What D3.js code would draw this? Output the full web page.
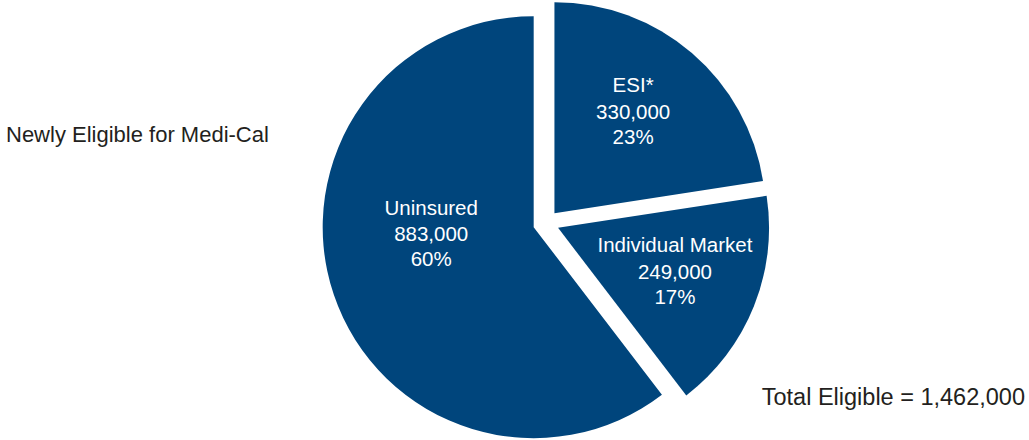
<!DOCTYPE html>
<html>
<head>
<meta charset="utf-8">
<script src="https://cdn.jsdelivr.net/npm/d3@7"></script>
<style>
  html, body { margin: 0; padding: 0; background: #fff; }
  svg { display: block; font-family: "Liberation Sans", Arial, sans-serif; }
</style>
</head>
<body>
<svg id="chart" width="1029" height="440"></svg>
<script>
const categories = ["ESI*", "Individual Market", "Uninsured"];
const values = [330000, 249000, 883000];
const valueLabels = ["330,000", "249,000", "883,000"];
const percentLabels = ["23%", "17%", "60%"];
const title = "Newly Eligible for Medi-Cal";
const totalLabel = "Total Eligible = 1,462,000";

const svg = d3.select("#chart");
const cx = 546, cy = 223, r = 211, explode = 13;
const color = "#00457c";

const pie = d3.pie().sort(null).value(d => d)(values);
const arc = d3.arc().innerRadius(0).outerRadius(r);

const g = svg.append("g").attr("transform", `translate(${cx},${cy})`);

function dir(a) { return [Math.sin(a), -Math.cos(a)]; }

const slices = g.selectAll("g.slice").data(pie).enter().append("g")
  .attr("class", "slice")
  .attr("transform", d => {
    const m = (d.startAngle + d.endAngle) / 2;
    const [dx, dy] = dir(m);
    return `translate(${dx * explode},${dy * explode})`;
  });

slices.append("path").attr("d", arc).attr("fill", color);

// label placement: polar offset from the (exploded) slice vertex
function labelPos(d, i) {
  const m = (d.startAngle + d.endAngle) / 2;
  if (i === 2) {
    const a = m + (13 * Math.PI / 180);
    const [dx, dy] = dir(a);
    return [dx * 103, dy * 103];
  }
  const a = i === 0 ? m - (2 * Math.PI / 180) : m;
  const [dx, dy] = dir(a);
  return [dx * 126, dy * 126];
}

slices.each(function(d, i) {
  const [x, y] = labelPos(d, i);
  const t = d3.select(this).append("text")
    .attr("text-anchor", "middle")
    .attr("fill", "#ffffff")
    .attr("font-size", "20.5px")
    .attr("transform", `translate(${x},${y + 4})`);
  t.append("tspan").attr("x", 0).attr("y", -26.5).text(categories[i]);
  t.append("tspan").attr("x", 0).attr("y", 0).text(valueLabels[i]);
  t.append("tspan").attr("x", 0).attr("y", 25).text(percentLabels[i]);
});

svg.append("text")
  .attr("x", 6).attr("y", 141.5)
  .attr("fill", "#231f20")
  .attr("font-size", "22px")
  .text(title);

svg.append("text")
  .attr("x", 1025).attr("y", 405)
  .attr("text-anchor", "end")
  .attr("fill", "#231f20")
  .attr("font-size", "23.5px")
  .text(totalLabel);
</script>
</body>
</html>
